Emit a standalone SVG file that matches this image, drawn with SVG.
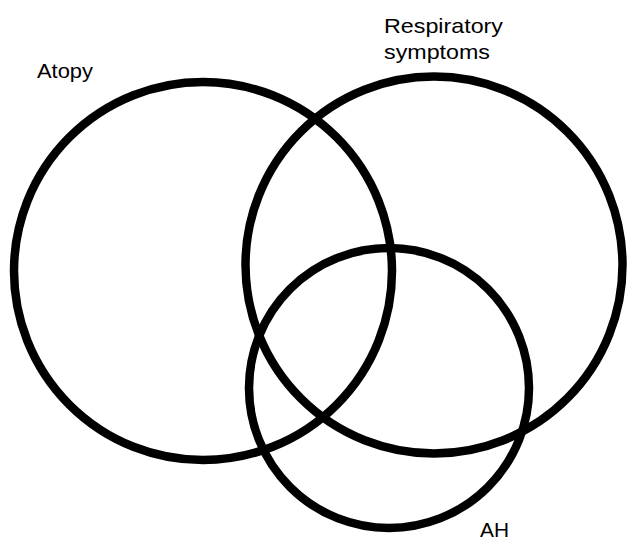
<svg xmlns="http://www.w3.org/2000/svg" width="627" height="542" viewBox="0 0 627 542">
  <style>
    .ring { fill: none; stroke: #000; stroke-width: 8.5; }
    .label { font-family: "Liberation Sans", Arial, sans-serif; font-size: 21px; fill: #000; }
  </style>
  <rect width="627" height="542" fill="#fff"/>
  <g id="atopy">
    <circle class="ring" cx="203" cy="271" r="189"/>
    <text class="label" x="37" y="78" textLength="56" lengthAdjust="spacingAndGlyphs">Atopy</text>
  </g>
  <g id="respiratory-symptoms">
    <circle class="ring" cx="434" cy="265" r="188.5"/>
    <text class="label" x="384" y="33" textLength="119" lengthAdjust="spacingAndGlyphs">Respiratory</text>
    <text class="label" x="384" y="58.5" textLength="106" lengthAdjust="spacingAndGlyphs">symptoms</text>
  </g>
  <g id="ah">
    <circle class="ring" cx="389" cy="388" r="140"/>
    <text class="label" x="480" y="537" textLength="29" lengthAdjust="spacingAndGlyphs">AH</text>
  </g>
  <g id="connectors"/>
</svg>
